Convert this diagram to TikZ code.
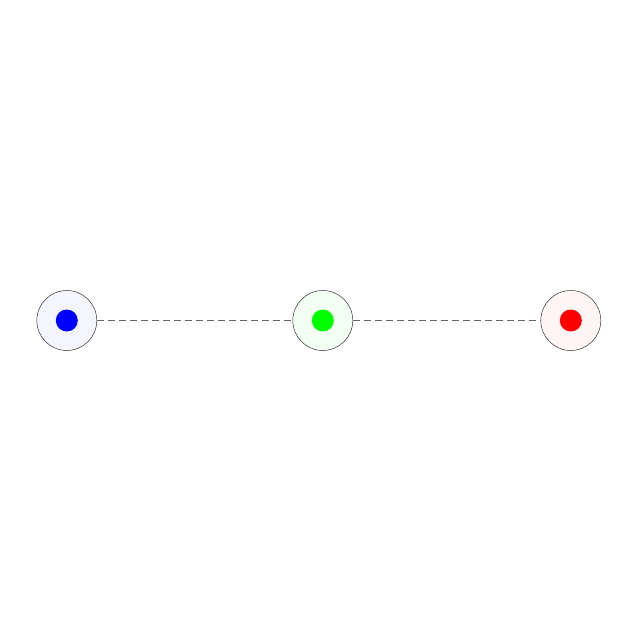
\documentclass[tikz,border=0pt]{standalone}
\begin{document}
\begin{tikzpicture}[x=1pt,y=-1pt,
  outer/.style={circle,draw=black!80,line width=0.5pt,minimum size=60pt,inner sep=0pt},
  dot/.style={circle,minimum size=22pt,inner sep=0pt},
  link/.style={draw=black!60,line width=0.6pt,dash pattern=on 7pt off 4pt}]
\useasboundingbox (0,0) rectangle (640,640);
\node[outer,fill=blue!4] (a) at (66.8,320.5) {};
\node[outer,fill=green!5] (b) at (322.8,320.5) {};
\node[outer,fill=red!4] (c) at (570.8,320.5) {};
\node[dot,fill=blue] (ad) at (a) {};
\node[dot,fill=green] (bd) at (b) {};
\node[dot,fill=red] (cd) at (c) {};
\draw[link] (a) -- (b);
\draw[link] (b) -- (c);
\end{tikzpicture}
\end{document}
